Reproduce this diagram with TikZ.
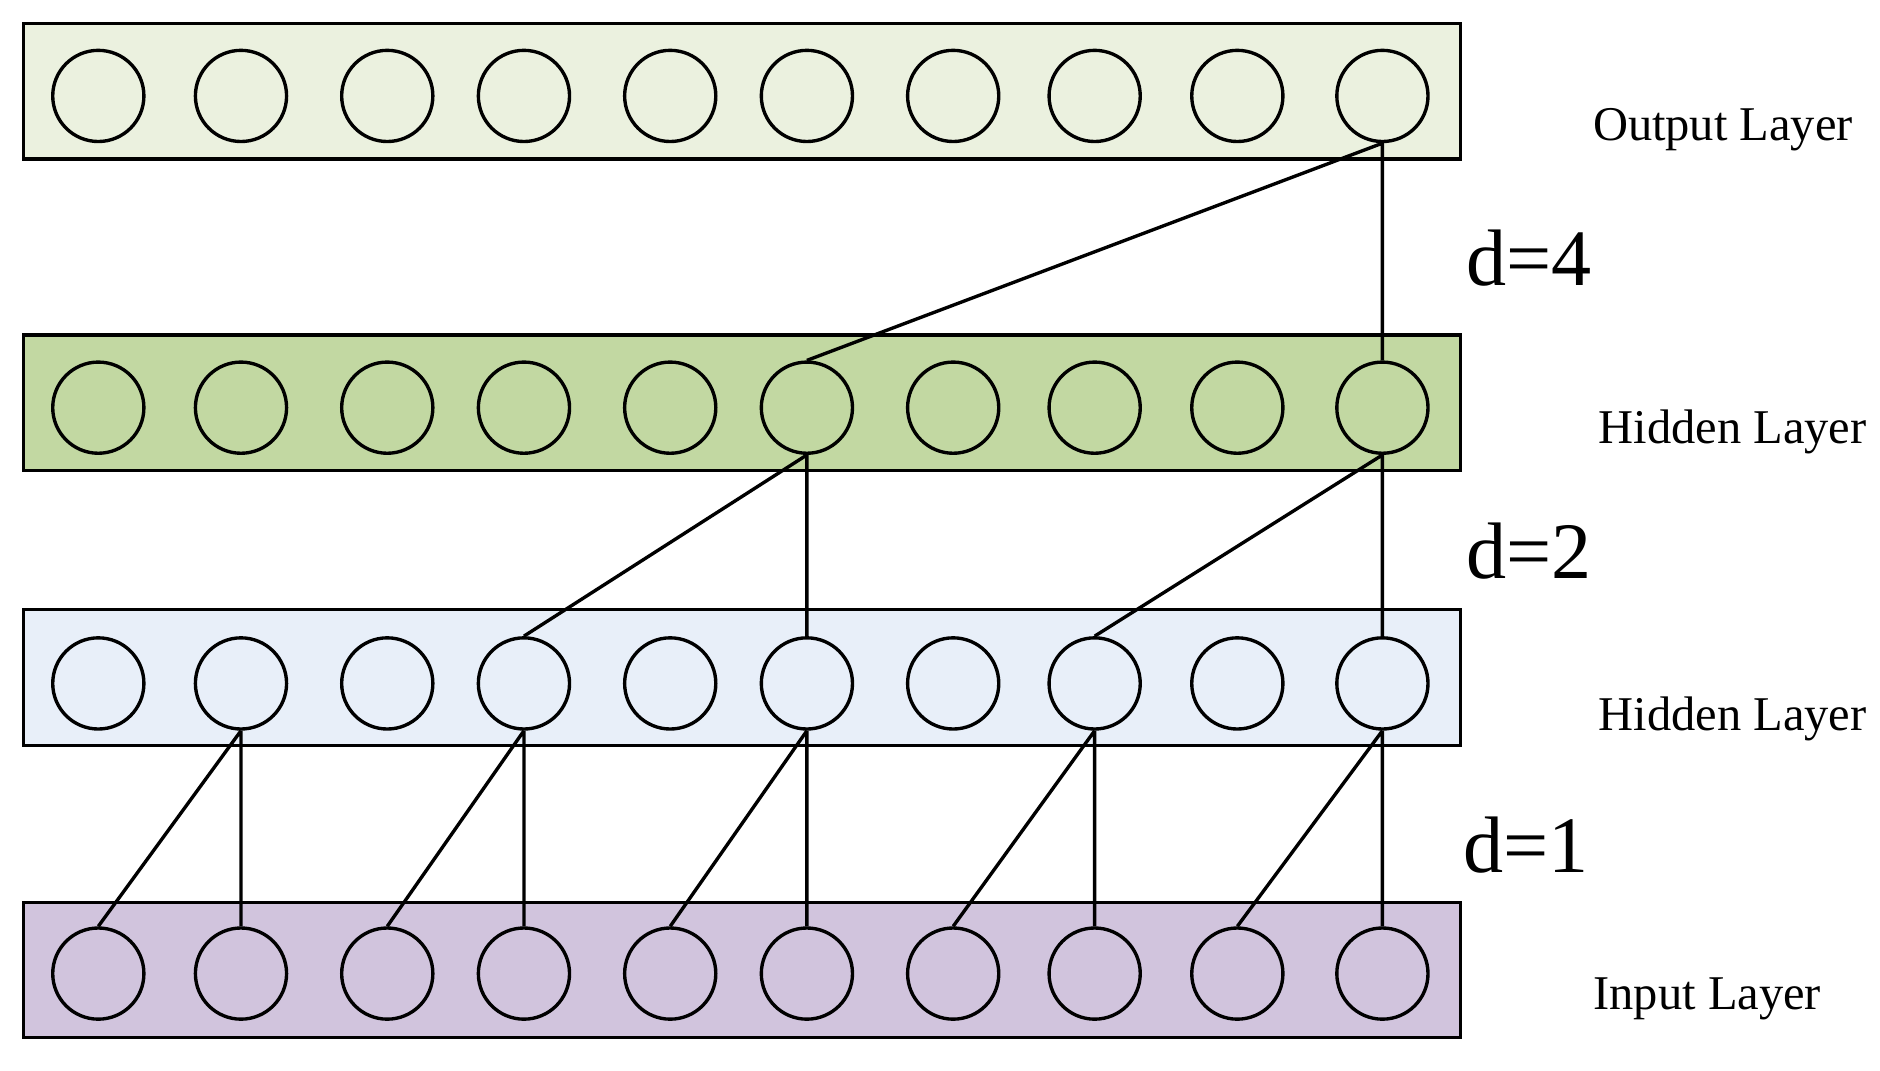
\documentclass[tikz,border=0pt]{standalone}
\usepackage{fontspec}
\setmainfont{Liberation Serif}
\definecolor{outfill}{HTML}{EBF1DF}
\definecolor{hidfillb}{HTML}{C2D8A2}
\definecolor{hidfilla}{HTML}{E8EFF9}
\definecolor{infill}{HTML}{D1C4DD}
\tikzset{
  layer/.style={draw=black, thick, minimum width=11.98cm, minimum height=1.13cm, inner sep=0pt},
  unit/.style={circle, draw=black, thick, minimum size=0.76cm, inner sep=0pt},
  lab/.style={font=\fontsize{11.5}{13}\selectfont},
  dist/.style={font=\fontsize{19}{21}\selectfont}
}
\begin{document}
\begin{tikzpicture}[x=0.01cm, y=-0.01cm]
\useasboundingbox (0,0) rectangle (1568,893);
\node[layer, fill=outfill] (out) at (619,76) {};
\node[layer, fill=hidfillb] (hb) at (619,336) {};
\node[layer, fill=hidfilla] (ha) at (619,565) {};
\node[layer, fill=infill] (in) at (619,809) {};
\foreach \x [count=\i] in {82,201,323,437,559,673,795,913,1032,1153} {
  \node[unit, fill=outfill] (o\i) at (\x,80) {};
  \node[unit, fill=hidfillb] (b\i) at (\x,340) {};
  \node[unit, fill=hidfilla] (a\i) at (\x,570) {};
  \node[unit, fill=infill] (n\i) at (\x,812) {};
}
\draw[thick] (o10.south)--(b6.north) (o10.south)--(b10.north);
\draw[thick] (b6.south)--(a4.north) (b6.south)--(a6.north);
\draw[thick] (b10.south)--(a8.north) (b10.south)--(a10.north);
\foreach \j/\k in {2/1,4/3,6/5,8/7,10/9} {
  \draw[thick] (a\j.south)--(n\k.north) (a\j.south)--(n\j.north);
}
\node[lab] (lo) at (1437,108) {Output Layer};
\node[lab] (lb) at (1445,360) {Hidden Layer};
\node[lab] (la) at (1445,600) {Hidden Layer};
\node[lab] (li) at (1424,833) {Input Layer};
\node[dist] (d4) at (1275,215) {d=4};
\node[dist] (d2) at (1275,460) {d=2};
\node[dist] (d1) at (1273,705) {d=1};
\end{tikzpicture}
\end{document}
